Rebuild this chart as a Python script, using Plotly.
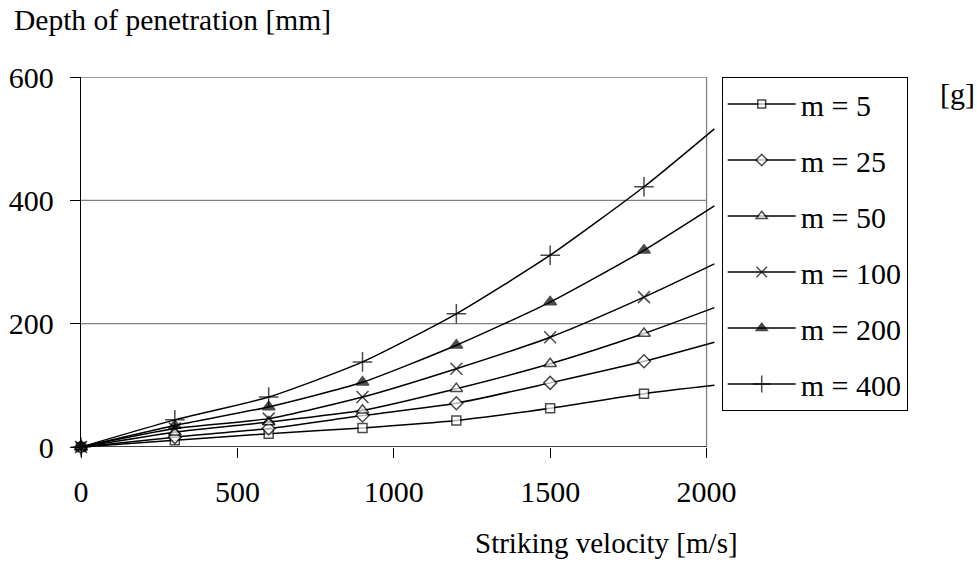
import plotly.graph_objects as go

# ---- data ----
velocity = [0, 300, 600, 900, 1200, 1500, 1800, 2025]
series_names = ["m = 5", "m = 25", "m = 50", "m = 100", "m = 200", "m = 400"]
m5 = [0, 11, 21.6, 31, 43, 63, 86.5, 100]
m25 = [0, 16, 30, 51, 71, 104, 139, 170]
m50 = [0, 24, 40.5, 59.5, 94.6, 135, 184, 226]
m100 = [0, 30, 46, 81, 127, 178, 243, 297]
m200 = [0, 35, 65, 105, 165, 235, 319, 391]
m400 = [0, 44, 81, 138, 216, 311, 422, 516]
x_ticks = [0, 500, 1000, 1500, 2000]
y_ticks = [0, 200, 400, 600]

series_values = [m5, m25, m50, m100, m200, m400]
symbols = ["square", "diamond", "triangle-up", "x-thin", "triangle-up", "cross-thin"]
fills = ["white", "white", "white", "black", "black", "black"]
sizes = [9, 10, 11, 12, 11, 14]

FONT = "Liberation Serif"
FS = 30

fig = go.Figure()
for name, vals, sym, fill, sz in zip(series_names, series_values, symbols, fills, sizes):
    msizes = [sz] * (len(velocity) - 1) + [0]
    fig.add_trace(go.Scatter(
        x=velocity, y=vals, name=name, mode="lines+markers",
        line=dict(color="black", width=1.5, shape="spline", smoothing=0.6),
        marker=dict(symbol=sym, size=msizes, color=fill,
                    line=dict(color="black", width=1.5)),
        cliponaxis=False, legendgroup=name,
    ))

xmax_data = x_ticks[-1]
ymax_data = y_ticks[-1]
shapes = []
for yv in y_ticks[1:]:
    shapes.append(dict(type="line", xref="x", yref="y", x0=0, x1=xmax_data, y0=yv, y1=yv,
                       line=dict(color="#808080", width=1.3), layer="below"))
shapes.append(dict(type="line", xref="x", yref="y", x0=xmax_data, x1=xmax_data, y0=0, y1=ymax_data,
                   line=dict(color="#808080", width=1.3), layer="below"))
shapes.append(dict(type="line", xref="x", yref="y", x0=0, x1=xmax_data, y0=0, y1=0,
                   line=dict(color="black", width=1.3), layer="below"))

fig.update_layout(
    width=977, height=562,
    margin=dict(l=81, r=262, t=77, b=115),
    paper_bgcolor="white", plot_bgcolor="white",
    font=dict(family=FONT, size=FS, color="black"),
    showlegend=True,
    legend=dict(x=1.0106, y=1.0, xanchor="left", yanchor="top",
                bordercolor="black", borderwidth=1, bgcolor="white",
                font=dict(family=FONT, size=FS), tracegroupgap=14, itemwidth=68),
    shapes=shapes,
    xaxis=dict(range=[0, 2027], tickvals=x_ticks, ticktext=[str(v) for v in x_ticks],
               showgrid=False, zeroline=False, showline=False, automargin=False,
               ticks="outside", ticklen=10, tickcolor="black", tickwidth=1.3,
               ticklabelstandoff=8),
    yaxis=dict(range=[0, 600], tickvals=y_ticks, showgrid=False, zeroline=False,
               showline=True, linecolor="black", linewidth=1.3, automargin=False,
               ticks="outside", ticklen=10, tickcolor="black", tickwidth=1.3,
               ticklabelstandoff=10),
    annotations=[
        dict(text="Depth of penetration [mm]", xref="paper", yref="paper",
             x=-0.109, y=1.153, xanchor="left", yanchor="middle", showarrow=False,
             font=dict(family=FONT, size=29.5)),
        dict(text="Striking velocity [m/s]", xref="paper", yref="paper",
             x=1.0394, y=-0.26, xanchor="right", yanchor="middle", showarrow=False,
             font=dict(family=FONT, size=29)),
        dict(text="[g]", xref="paper", yref="paper",
             x=1.3517, y=0.956, xanchor="left", yanchor="middle", showarrow=False,
             font=dict(family=FONT, size=FS)),
    ],
)

fig.write_html("out.html", config={"displayModeBar": False},
               post_script="document.body.style.margin='0';")
